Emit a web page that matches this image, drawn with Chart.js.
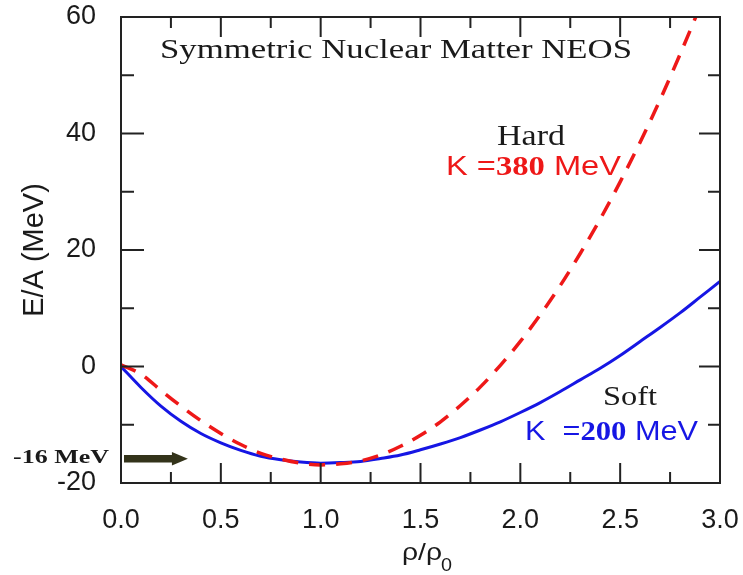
<!DOCTYPE html>
<html><head><meta charset="utf-8">
<script src="https://cdn.jsdelivr.net/npm/chart.js@4/dist/chart.umd.min.js"></script>
<style>html,body{margin:0;padding:0;background:#fff;}canvas{display:block}</style>
</head><body>
<canvas id="c" width="743" height="575"></canvas>
<script>
// ---- data ----
const RHO  = [0,0.1,0.2,0.3,0.4,0.5,0.6,0.7,0.8,0.9,1.0,1.1,1.2,1.3,1.4,1.5,1.6,1.7,1.8,1.9,2.0,2.1,2.2,2.3,2.4,2.5,2.6,2.7,2.8,2.9,3.0];
const SOFT = [0,-3.6,-6.8,-9.4,-11.5,-13.1,-14.4,-15.4,-16.0,-16.4,-16.6,-16.5,-16.3,-15.8,-15.2,-14.3,-13.3,-12.2,-10.9,-9.5,-7.9,-6.2,-4.3,-2.3,-0.3,1.9,4.3,6.7,9.2,11.9,14.6];
const HARD = [0.3,-1.3,-4.1,-6.8,-9.3,-11.5,-13.4,-14.9,-15.9,-16.6,-16.9,-16.7,-16.2,-15.2,-13.7,-11.8,-9.5,-6.7,-3.5,0.2,4.3,8.9,13.9,19.4,25.3,31.7,38.5,45.8,53.6,61.8,70.4];
const X_MAJOR = [0,0.5,1.0,1.5,2.0,2.5,3.0];
const X_MINOR = [0.25,0.75,1.25,1.75,2.25,2.75];
const Y_MAJOR = [-20,0,20,40,60];
const Y_MINOR = [-10,10,30,50];
const SATURATION_E = -16;
const TITLE = 'Symmetric Nuclear Matter NEOS';
const Y_LABEL = 'E/A (MeV)';

const RED = 'rgb(238,24,24)';
const BLUE = 'rgb(22,22,228)';
const INK = '#1a1a1a';

function pts(ys){ return RHO.map((x,i)=>({x:x,y:ys[i]})); }

function drawFit(ctx, segs, left, baseline, width, color){
  ctx.save();
  let total = 0;
  segs.forEach(s=>{ ctx.font = s.f; s.w = ctx.measureText(s.t).width; total += s.w; });
  ctx.translate(left, baseline);
  ctx.scale(width/total, 1);
  ctx.fillStyle = color;
  ctx.textBaseline = 'alphabetic';
  ctx.textAlign = 'left';
  let x = 0;
  segs.forEach(s=>{ ctx.font = s.f; ctx.fillText(s.t, x, 0); x += s.w; });
  ctx.restore();
}

const decor = {
  id:'decor',
  afterDatasetsDraw(chart){
    const {ctx, chartArea:a, scales:{x, y}} = chart;
    ctx.save();
    ctx.strokeStyle = '#222';
    ctx.lineWidth = 2;
    ctx.beginPath();
    const tickX = (v, L) => { const p = x.getPixelForValue(v); ctx.moveTo(p, a.bottom); ctx.lineTo(p, a.bottom - L); ctx.moveTo(p, a.top); ctx.lineTo(p, a.top + L); };
    const tickY = (v, Ll, Lr) => { const p = y.getPixelForValue(v); ctx.moveTo(a.left, p); ctx.lineTo(a.left + Ll, p); ctx.moveTo(a.right, p); ctx.lineTo(a.right - Lr, p); };
    X_MAJOR.forEach(v=>tickX(v,20));
    X_MINOR.forEach(v=>tickX(v,11));
    Y_MAJOR.forEach(v=>tickY(v,23,21));
    Y_MINOR.forEach(v=>tickY(v,13,12));
    ctx.stroke();
    ctx.strokeRect(a.left, a.top, a.right - a.left, a.bottom - a.top);

    // arrow at saturation energy
    const yc = y.getPixelForValue(SATURATION_E) - 1;
    const x0 = x.getPixelForValue(0.015), x1 = x.getPixelForValue(0.255), x2 = x.getPixelForValue(0.335);
    ctx.fillStyle = '#33331a';
    ctx.beginPath();
    ctx.moveTo(x0, yc - 3.8); ctx.lineTo(x1, yc - 3.8); ctx.lineTo(x1, yc - 6.8);
    ctx.lineTo(x2, yc); ctx.lineTo(x1, yc + 6.8); ctx.lineTo(x1, yc + 3.8); ctx.lineTo(x0, yc + 3.8);
    ctx.closePath(); ctx.fill();
    ctx.restore();

    const serif = '"Liberation Serif", "Times New Roman", serif';
    const sans = '"Liberation Sans", Arial, sans-serif';
    drawFit(ctx, [{t:TITLE, f:'27px '+serif}], 160, 58, 472, INK);
    drawFit(ctx, [{t:'Hard', f:'29px '+serif}], 497, 145, 68, INK);
    drawFit(ctx, [{t:'K =', f:'28px '+sans},{t:'380', f:'bold 28px '+serif},{t:' MeV', f:'28px '+sans}], 446, 175, 175, RED);
    drawFit(ctx, [{t:'Soft', f:'27px '+serif}], 603, 405, 54, INK);
    drawFit(ctx, [{t:'K  =', f:'28px '+sans},{t:'200', f:'bold 28px '+serif},{t:' MeV', f:'28px '+sans}], 525, 440, 173, BLUE);
    drawFit(ctx, [{t:'-16 MeV', f:'bold 19px '+serif}], 13, 463, 96, INK);
    // x-axis title rho/rho_0
    drawFit(ctx, [{t:'ρ/ρ', f:'24px '+sans}], 402, 560, 40, INK);
    drawFit(ctx, [{t:'0', f:'18px '+sans}], 441, 571, 11, INK);
  }
};

new Chart(document.getElementById('c'), {
  type:'line',
  data:{ datasets:[
    {label:'Hard', data:pts(HARD), borderColor:RED, borderWidth:3.5, borderDash:[16,11], pointRadius:0, cubicInterpolationMode:'monotone', fill:false, clip:0},
    {label:'Soft', data:pts(SOFT), borderColor:BLUE, borderWidth:3, pointRadius:0, cubicInterpolationMode:'monotone', fill:false, clip:0}
  ]},
  options:{
    responsive:false, animation:false,
    layout:{padding:{left:0, right:23, top:17, bottom:0}},
    plugins:{legend:{display:false}, tooltip:{enabled:false}},
    scales:{
      x:{type:'linear', min:0, max:3,
         grid:{display:false, drawTicks:false}, border:{display:false},
         ticks:{stepSize:0.5, padding:21, color:INK, font:{family:'"Liberation Sans", Arial, sans-serif', size:27}, callback:v=>Number(v).toFixed(1), maxRotation:0},
         afterFit(s){ s.height = 92; s.paddingLeft = 0; s.paddingRight = 0; s.paddingTop = 0; s.paddingBottom = 0; }},
      y:{type:'linear', min:-20, max:60,
         grid:{display:false, drawTicks:false}, border:{display:false},
         ticks:{stepSize:20, padding:25, color:INK, font:{family:'"Liberation Sans", Arial, sans-serif', size:27}},
         title:{display:true, text:Y_LABEL, color:INK, font:{family:'"Liberation Sans", Arial, sans-serif', size:29}, padding:{top:18, bottom:0}},
         afterFit(s){ s.width = 121; s.paddingTop = 0; s.paddingBottom = 0; s.paddingLeft = 0; s.paddingRight = 0; }}
    }
  },
  plugins:[decor]
});
</script>
</body></html>
